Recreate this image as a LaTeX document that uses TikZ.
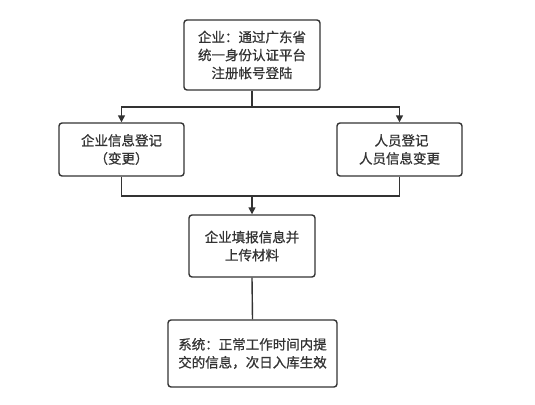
\documentclass[tikz,border=0pt]{standalone}
\usepackage{fontspec}
\setmainfont{Noto Sans CJK SC}[FakeBold=0.8]
\usetikzlibrary{arrows.meta}
\definecolor{ink}{HTML}{333333}
\tikzset{
  box/.style={draw=ink, line width=1.4pt, rounded corners=3pt, text=ink, align=center, inner sep=0pt,
    font=\fontsize{13.5}{18}\selectfont},
  conn/.style={draw=ink, line width=1.4pt},
  arr/.style={conn, -{Triangle[length=7pt,width=7pt]}}
}
\begin{document}
\begin{tikzpicture}[x=1pt,y=-1pt]
\useasboundingbox (0,0) rectangle (535,404);
\node[box, minimum width=136pt, minimum height=70pt] (top) at (252,55) {企业：通过广东省\\统一身份认证平台\\注册帐号登陆};
\node[box, minimum width=125pt, minimum height=53pt] (left) at (121.5,149.5) {企业信息登记\\（变更）};
\node[box, minimum width=125pt, minimum height=53pt] (right) at (399.5,149.5) {\hspace*{4pt}人员登记\\人员信息变更};
\node[box, minimum width=126pt, minimum height=62pt] (mid) at (252,246) {企业填报信息并\\上传材料};
\node[box, minimum width=169pt, minimum height=67pt] (bot) at (252.5,353.5) {系统：正常工作时间内提\\交的信息，次日入库生效};
\coordinate (split) at (252,107);
\coordinate (join) at (252,196);
\draw[conn] (top.south) -- (split);
\draw[arr] (split) -| (left.north);
\draw[arr] (split) -| (right.north);
\draw[conn] (left.south) |- (join);
\draw[conn] (right.south) |- (join);
\draw[arr] (join) -- (mid.north);
\draw[conn] (mid.south) -- (bot.north);
\end{tikzpicture}
\end{document}
